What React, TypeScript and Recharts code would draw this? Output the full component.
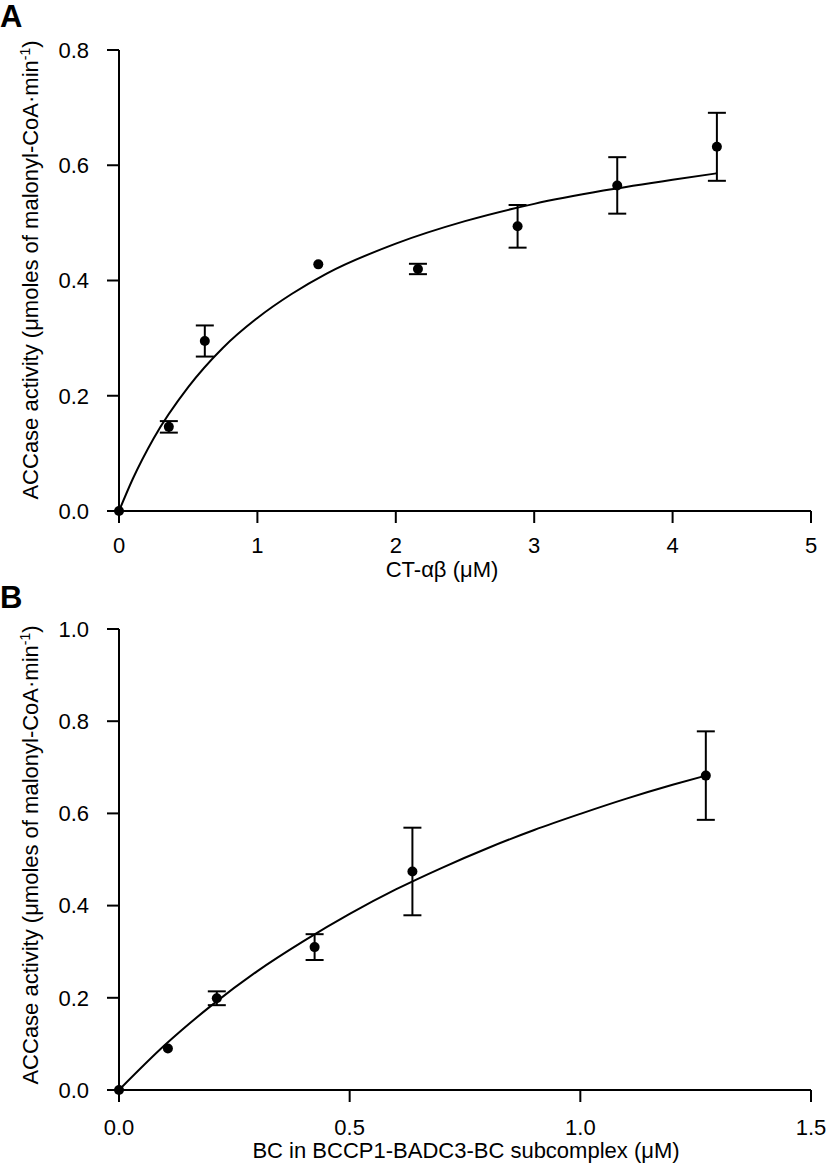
import React from 'react';
import { ComposedChart, Line, Scatter, ErrorBar, XAxis, YAxis } from 'recharts';

// Panel A: CT-αβ titration
const aConc = [0, 0.36, 0.62, 1.44, 2.16, 2.88, 3.6, 4.32];
const aActivity = [0, 0.146, 0.295, 0.428, 0.42, 0.494, 0.565, 0.632];
const aError = [0, 0.01, 0.027, 0, 0.009, 0.037, 0.049, 0.059];
const aFitConc = [0, 0.1, 0.25, 0.5, 0.75, 1, 1.25, 1.5, 2, 2.5, 3, 3.5, 4, 4.32];
const aFitActivity = [0, 0.056, 0.126, 0.215, 0.283, 0.335, 0.377, 0.412, 0.464, 0.503, 0.533, 0.556, 0.575, 0.586];
const aXTicks = [0, 1, 2, 3, 4, 5];
const aYTicks = [0, 0.2, 0.4, 0.6, 0.8];

// Panel B: BC in BCCP1-BADC3-BC subcomplex
const bConc = [0, 0.106, 0.212, 0.424, 0.636, 1.272];
const bActivity = [0, 0.09, 0.199, 0.31, 0.474, 0.682];
const bError = [0, 0, 0.015, 0.028, 0.095, 0.096];
const bFitConc = [0, 0.1, 0.2, 0.3, 0.4, 0.5, 0.6, 0.7, 0.8, 0.9, 1.0, 1.1, 1.2, 1.272];
const bFitActivity = [0, 0.098, 0.183, 0.258, 0.323, 0.382, 0.435, 0.482, 0.525, 0.564, 0.599, 0.632, 0.662, 0.682];
const bXTicks = [0, 0.5, 1.0, 1.5];
const bYTicks = [0, 0.2, 0.4, 0.6, 0.8, 1.0];

const FONT = '"Liberation Sans", Arial, sans-serif';
const axisStyle = { stroke: '#000', strokeWidth: 2 };
const tickStyle = { fontSize: 22, fill: '#000', fontFamily: FONT };

interface PanelProps {
    conc: number[];
    activity: number[];
    error: number[];
    fitConc: number[];
    fitActivity: number[];
    xTicks: number[];
    yTicks: number[];
    xFormat: (v: number) => string;
    xLabel: string;
    xLabelX: number;
    xLabelY: number;
    height: number;
    top: number;
    xTickMargin: number;
}

const YLabel = () => {
    const cx = 38;
    const cy = 270;
    return (
        <text
            x={cx}
            y={cy}
            transform={`rotate(-90, ${cx}, ${cy})`}
            textAnchor="middle"
            fontSize={22}
            fontFamily={FONT}
            fill="#000"
        >
            ACCase activity (μmoles of malonyl-CoA·min
            <tspan fontSize={14} dy={-8}>-1</tspan>
            <tspan dy={8}>)</tspan>
        </text>
    );
};

function Panel(p: PanelProps) {
    const points = p.conc.map((x, i) => ({ x, y: p.activity[i], err: p.error[i] }));
    const fit = p.fitConc.map((x, i) => ({ x, y: p.fitActivity[i] }));
    const xMax = p.xTicks[p.xTicks.length - 1];
    const yMax = p.yTicks[p.yTicks.length - 1];

    return (
        <ComposedChart
            width={826}
            height={p.height}
            margin={{ top: p.top, right: 15, bottom: 0, left: 0 }}
        >
            <XAxis
                type="number"
                dataKey="x"
                domain={[0, xMax]}
                ticks={p.xTicks}
                tickFormatter={p.xFormat}
                axisLine={axisStyle}
                tickLine={axisStyle}
                tickSize={12}
                tickMargin={p.xTickMargin}
                tick={tickStyle}
                height={75}
                label={{
                    content: () => (
                        <text x={p.xLabelX} y={p.xLabelY} textAnchor="middle" fontSize={22} fontFamily={FONT} fill="#000">
                            {p.xLabel}
                        </text>
                    ),
                }}
            />
            <YAxis
                type="number"
                dataKey="y"
                domain={[0, yMax]}
                ticks={p.yTicks}
                tickFormatter={(v: number) => v.toFixed(1)}
                axisLine={axisStyle}
                tickLine={axisStyle}
                tickSize={12}
                tickMargin={18}
                tick={tickStyle}
                width={119}
                label={{ content: () => <YLabel /> }}
            />
            <Line
                data={fit}
                dataKey="y"
                type="monotone"
                stroke="#000"
                strokeWidth={2}
                dot={false}
                activeDot={false}
                isAnimationActive={false}
            />
            <Scatter
                data={points}
                dataKey="y"
                fill="#000"
                isAnimationActive={false}
                shape={(s: any) => <circle cx={s.cx} cy={s.cy} r={5} fill="#000" />}
            >
                <ErrorBar dataKey="err" direction="y" width={9} stroke="#000" strokeWidth={2} />
            </Scatter>
        </ComposedChart>
    );
}

const letterStyle: React.CSSProperties = {
    position: 'absolute',
    left: 0,
    fontFamily: FONT,
    fontWeight: 'bold',
    fontSize: 31,
    lineHeight: 1,
};

export default function App() {
    return (
        <div style={{ position: 'absolute', left: 0, top: 0, width: 826, height: 1165, background: '#fff' }}>
            <div style={{ position: 'absolute', left: 0, top: 0 }}>
                <Panel
                    conc={aConc}
                    activity={aActivity}
                    error={aError}
                    fitConc={aFitConc}
                    fitActivity={aFitActivity}
                    xTicks={aXTicks}
                    yTicks={aYTicks}
                    xFormat={(v) => String(v)}
                    xLabel="CT-αβ (μM)"
                    xLabelX={442}
                    xLabelY={577}
                    height={586}
                    top={50}
                    xTickMargin={14}
                />
            </div>
            <div style={{ position: 'absolute', left: 0, top: 585 }}>
                <Panel
                    conc={bConc}
                    activity={bActivity}
                    error={bError}
                    fitConc={bFitConc}
                    fitActivity={bFitActivity}
                    xTicks={bXTicks}
                    yTicks={bYTicks}
                    xFormat={(v) => v.toFixed(1)}
                    xLabel="BC in BCCP1-BADC3-BC subcomplex (μM)"
                    xLabelX={466}
                    xLabelY={573}
                    height={580}
                    top={44}
                    xTickMargin={17}
                />
            </div>
            <div style={{ ...letterStyle, top: 1 }}>A</div>
            <div style={{ ...letterStyle, top: 582 }}>B</div>
        </div>
    );
}
